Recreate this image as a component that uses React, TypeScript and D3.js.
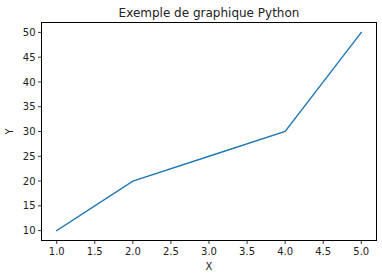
import React from "react";
import * as d3 from "d3";

const xValues = [1, 2, 3, 4, 5];
const yValues = [10, 20, 25, 30, 50];
const xTicks = [1.0, 1.5, 2.0, 2.5, 3.0, 3.5, 4.0, 4.5, 5.0];
const yTicks = [10, 15, 20, 25, 30, 35, 40, 45, 50];
const title = "Exemple de graphique Python";
const xLabel = "X";
const yLabel = "Y";

export default function App() {
  const W = 382, H = 278;
  const left = 41.5, right = 376.5, top = 22.5, bottom = 240.5;
  const x = d3.scaleLinear().domain([0.8, 5.2]).range([left, right]);
  const y = d3.scaleLinear().domain([8, 52]).range([bottom, top]);
  const line = d3.line<number>().x((_, i) => x(xValues[i])).y((d) => y(d));
  const font = "DejaVu Sans, sans-serif";
  return (
    <svg width={W} height={H} style={{ position: "absolute", left: 0, top: 0, background: "#fff" }}>
      <rect x={0} y={0} width={W} height={H} fill="#fff" />
      <path d={line(yValues) || ""} fill="none" stroke="#1f77b4" strokeWidth={1.4} strokeLinecap="square" />
      <rect x={left} y={top} width={right - left} height={bottom - top} fill="none" stroke="#000" strokeWidth={1} />
      {xTicks.map((t) => (
        <g key={"x" + t}>
          <line x1={x(t)} x2={x(t)} y1={bottom} y2={bottom + 3.5} stroke="#000" strokeWidth={0.8} />
          <text x={x(t)} y={bottom + 14} fontSize={10} fontFamily={font} textAnchor="middle" fill="#222">
            {t.toFixed(1)}
          </text>
        </g>
      ))}
      {yTicks.map((t) => (
        <g key={"y" + t}>
          <line x1={left - 3.5} x2={left} y1={y(t)} y2={y(t)} stroke="#000" strokeWidth={0.8} />
          <text x={left - 6} y={y(t) + 3.6} fontSize={10} fontFamily={font} textAnchor="end" fill="#222">
            {t}
          </text>
        </g>
      ))}
      <text x={(left + right) / 2} y={17} fontSize={12} fontFamily={font} textAnchor="middle" fill="#222">
        {title}
      </text>
      <text x={(left + right) / 2} y={270} fontSize={10} fontFamily={font} textAnchor="middle" fill="#222">
        {xLabel}
      </text>
      <text
        transform={`translate(12.5, ${(top + bottom) / 2}) rotate(-90)`}
        fontSize={10}
        fontFamily={font}
        textAnchor="middle"
        fill="#222"
      >
        {yLabel}
      </text>
    </svg>
  );
}
